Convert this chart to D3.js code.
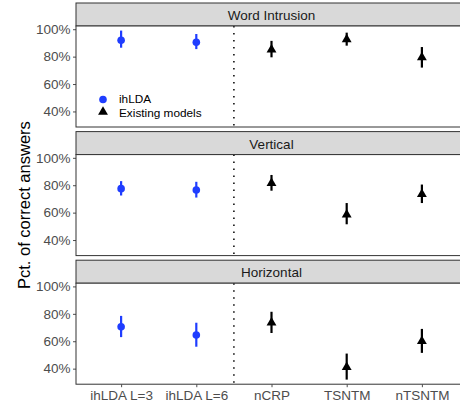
<!DOCTYPE html>
<html>
<head>
<meta charset="utf-8">
<script src="https://cdn.jsdelivr.net/npm/d3@7"></script>
<style>
  body { margin: 0; background: #fff; }
  svg { display: block; font-family: "Liberation Sans", Arial, sans-serif; }
</style>
</head>
<body>
<div id="chart"></div>
<script>
// data (pct correct, with low/high of the interval)
var models = ['ihLDA L=3', 'ihLDA L=6', 'nCRP', 'TSNTM', 'nTSNTM'];
var groups = ['ihLDA', 'ihLDA', 'Existing models', 'Existing models', 'Existing models'];
var tasks = ['Word Intrusion', 'Vertical', 'Horizontal'];

var wordMean = [92, 90.5, 85, 92.5, 79.5];
var wordLow  = [86.5, 85.5, 79.5, 88, 72];
var wordHigh = [99, 96.5, 91.5, 97.5, 87];

var vertMean = [77.5, 76.5, 81.5, 58.5, 73.5];
var vertLow  = [72.5, 71, 76, 51.5, 67];
var vertHigh = [83, 82.5, 87.5, 67, 80.5];

var horiMean = [70.5, 64.5, 73.5, 41, 60];
var horiLow  = [63, 56, 66, 32, 51.5];
var horiHigh = [78.5, 73.5, 81.5, 51, 69];

var yTicks = [40, 60, 80, 100];

var means = [wordMean, vertMean, horiMean];
var lows = [wordLow, vertLow, horiLow];
var highs = [wordHigh, vertHigh, horiHigh];

var width = 460, height = 405;
var left = 76, right = 467;
var firstTop = 3, stripH = 23, panelH = 101, facetStep = 128.6;
var blue = '#1f3dff';

var svg = d3.select('#chart')
    .append('svg')
    .attr('width', width)
    .attr('height', height);

var xScale = d3.scalePoint().domain(models).range([left, right]).padding(0.6);

// shared y domain: data range expanded 5% like ggplot
var allLow = d3.min(lows, function(a) { return d3.min(a); });
var allHigh = d3.max(highs, function(a) { return d3.max(a); });
var pad = (allHigh - allLow) * 0.05;

var symTri = d3.symbol().type(d3.symbolTriangle).size(42);
var divX = (xScale(models[1]) + xScale(models[2])) / 2;

tasks.forEach(function(task, i) {
    var top = firstTop + i * facetStep;
    var pTop = top + stripH, pBot = pTop + panelH;
    var yScale = d3.scaleLinear().domain([allLow - pad, allHigh + pad]).range([pBot, pTop]);

    var g = svg.append('g');

    // strip
    g.append('rect')
        .attr('x', left).attr('y', top)
        .attr('width', right - left).attr('height', stripH)
        .attr('fill', '#d9d9d9').attr('stroke', '#333').attr('stroke-width', 1);
    g.append('text')
        .attr('x', (left + right) / 2).attr('y', top + stripH / 2 + 1)
        .attr('text-anchor', 'middle').attr('dominant-baseline', 'central')
        .attr('font-size', 13.5).attr('fill', '#1a1a1a')
        .text(task);

    // panel
    g.append('rect')
        .attr('x', left).attr('y', pTop)
        .attr('width', right - left).attr('height', panelH)
        .attr('fill', '#fff');

    var yAxis = d3.axisLeft(yScale).tickValues(yTicks)
        .tickFormat(function(d) { return d + '%'; })
        .tickSize(3).tickPadding(2.5);
    var ya = g.append('g').attr('transform', 'translate(' + left + ',0)').call(yAxis);
    ya.select('.domain').remove();
    ya.selectAll('line').attr('stroke', '#4d4d4d');
    ya.selectAll('text').attr('font-size', 13.5).attr('fill', '#4d4d4d')
        .attr('font-family', '"Liberation Sans", Arial, sans-serif');

    // divider between ihLDA and existing models
    g.append('line')
        .attr('x1', divX).attr('x2', divX)
        .attr('y1', pTop).attr('y2', pBot)
        .attr('stroke', '#000').attr('stroke-width', 1.5)
        .attr('stroke-dasharray', '1.5,5.5');

    var rows = models.map(function(m, j) {
        return { model: m, group: groups[j], mean: means[i][j], low: lows[i][j], high: highs[i][j] };
    });

    g.selectAll('.err').data(rows).enter().append('line')
        .attr('x1', function(d) { return xScale(d.model); })
        .attr('x2', function(d) { return xScale(d.model); })
        .attr('y1', function(d) { return yScale(d.low); })
        .attr('y2', function(d) { return yScale(d.high); })
        .attr('stroke', function(d) { return d.group === 'ihLDA' ? blue : '#000'; })
        .attr('stroke-width', 2.2);

    g.selectAll('.pt').data(rows.filter(function(d) { return d.group === 'ihLDA'; }))
        .enter().append('circle')
        .attr('cx', function(d) { return xScale(d.model); })
        .attr('cy', function(d) { return yScale(d.mean); })
        .attr('r', 3.8).attr('fill', blue);

    g.selectAll('.tri').data(rows.filter(function(d) { return d.group !== 'ihLDA'; }))
        .enter().append('path')
        .attr('d', symTri)
        .attr('transform', function(d) { return 'translate(' + xScale(d.model) + ',' + yScale(d.mean) + ')'; })
        .attr('fill', '#000');

    g.append('rect')
        .attr('x', left).attr('y', pTop)
        .attr('width', right - left).attr('height', panelH)
        .attr('fill', 'none').attr('stroke', '#333').attr('stroke-width', 1);

    if (i === 0) {
        // legend inside the first panel
        var lg = g.append('g');
        lg.append('circle').attr('cx', 103).attr('cy', 99.5).attr('r', 3.8).attr('fill', blue);
        lg.append('path').attr('d', symTri).attr('transform', 'translate(103,112)').attr('fill', '#000');
        lg.append('text').attr('x', 119).attr('y', 99).attr('dominant-baseline', 'central')
            .attr('font-size', 11.8).attr('fill', '#000').text('ihLDA');
        lg.append('text').attr('x', 119).attr('y', 112.5).attr('dominant-baseline', 'central')
            .attr('font-size', 11.8).attr('fill', '#000').text('Existing models');
    }

    if (i === tasks.length - 1) {
        var xAxis = d3.axisBottom(xScale).tickSize(3).tickPadding(3);
        var xa = g.append('g').attr('transform', 'translate(0,' + pBot + ')').call(xAxis);
        xa.select('.domain').remove();
        xa.selectAll('line').attr('stroke', '#4d4d4d');
        xa.selectAll('text').attr('font-size', 13.5).attr('fill', '#4d4d4d')
            .attr('font-family', '"Liberation Sans", Arial, sans-serif');
    }
});

var plotMid = (firstTop + stripH + firstTop + 2 * facetStep + stripH + panelH) / 2;
svg.append('text')
    .attr('transform', 'translate(24,' + plotMid + ') rotate(-90)')
    .attr('text-anchor', 'middle').attr('dominant-baseline', 'central')
    .attr('font-size', 16.5).attr('fill', '#000')
    .text('Pct. of correct answers');
</script>
</body>
</html>
